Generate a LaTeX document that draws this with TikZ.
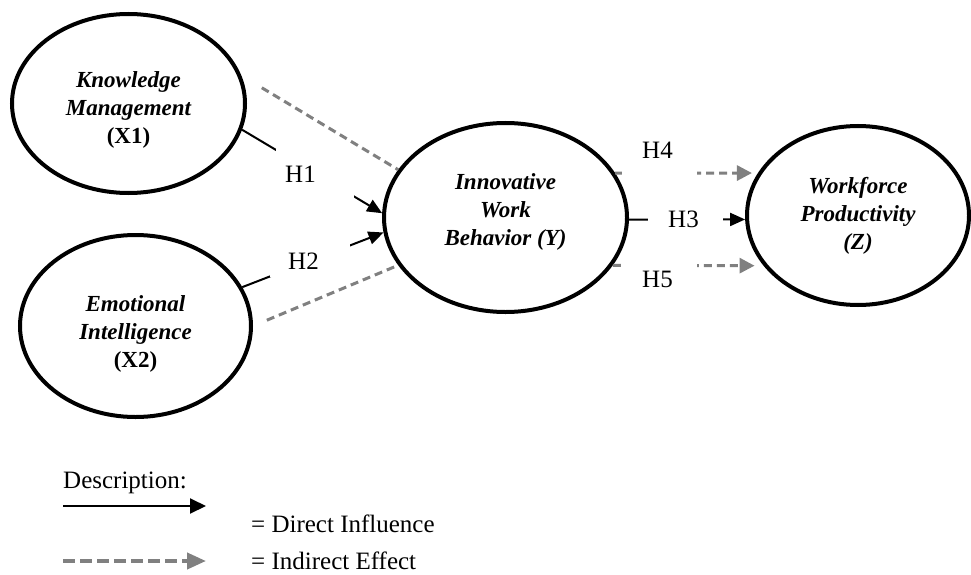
\documentclass[tikz,border=0pt]{standalone}
\usepackage{fontspec}
\setmainfont{Liberation Serif}
\usetikzlibrary{arrows.meta,shapes.geometric}
\definecolor{dgray}{HTML}{808080}
\begin{document}
\begin{tikzpicture}[x=1pt,y=-1pt,
  var/.style={draw, ellipse, line width=4pt, inner sep=0pt},
  vartext/.style={inner sep=0pt, align=center,
    font=\fontsize{23}{28}\selectfont\bfseries\itshape},
  direct/.style={line width=2pt, -{Triangle[length=15pt,width=13pt]}},
  indline/.style={draw=dgray, line width=3pt, dash pattern=on 8pt off 5pt},
  indirect/.style={indline, -{Triangle[length=15pt,width=15pt]}},
  hlab/.style={fill=white, inner ysep=0pt, anchor=base west, align=left,
    font=\fontsize{25}{28}\selectfont},
  txt/.style={inner sep=0pt, anchor=base west, font=\fontsize{25}{28}\selectfont}]
\useasboundingbox (0,0) rectangle (971,575);

% constructs
\node[var, minimum width=233pt, minimum height=179pt] (X1) at (128.5,103.5) {};
\node[var, minimum width=231pt, minimum height=182pt] (X2) at (135.5,326) {};
\node[var, minimum width=243pt, minimum height=189pt] (Y) at (505.5,217.5) {};
\node[var, minimum width=222pt, minimum height=179pt] (Z) at (858,215.5) {};
\node[vartext] (X1t) at ([yshift=-6.5pt]X1.center) {Knowledge\\Management\\{\upshape (X1)}};
\node[vartext] (X2t) at ([yshift=-8pt]X2.center) {Emotional\\Intelligence\\{\upshape (X2)}};
\node[vartext] (Yt) at ([yshift=6pt]Y.center) {Innovative\\Work\\Behavior (Y)};
\node[vartext] (Zt) at (Z.center) {Workforce\\Productivity\\(Z)};

% connectors
\draw[indline, shorten <=24pt] (X1.14.1) -- (Y.156.7);
\draw[indline, shorten <=15pt] (X2.0) -- (Y.204.6);
\draw[direct] (X1.-13.1) -- (Y.178.4);
\draw[direct] (X2.20.6) -- (Y.187.6);
\draw[direct] (Y.-1.6) -- (Z.182.8);
\draw[indirect, shorten >=6pt] (Y.22.1) -- (Z.157);
\draw[indirect, shorten >=9pt] (Y.-24.4) -- (Z.208.2);

% hypothesis labels (white boxes interrupt the connectors)
\node[hlab, inner xsep=9pt, text width=60pt, text height=35.5pt, text depth=19.5pt] (h1) at (276,182.5) {H1};
\node[hlab, inner xsep=18pt, text width=44pt, text height=26pt, text depth=7pt] (h2) at (270,269.5) {H2};
\node[hlab, inner xsep=20pt, text width=35pt, text height=22.5pt, text depth=7.5pt] (h3) at (648,227.5) {H3};
\node[hlab, inner xsep=20pt, text width=35pt, text height=18.5pt, text depth=21.5pt] (h4) at (622,158.5) {H4};
\node[hlab, inner xsep=20pt, text width=35pt, text height=29.5pt, text depth=6.5pt] (h5) at (622,287.5) {H5};

% legend
\node[txt] (desc) at (63,488) {Description:};
\coordinate (la1) at (63,506);
\coordinate (la2) at (206,506);
\draw[line width=2pt, -{Triangle[length=16pt,width=15pt]}] (la1) -- (la2);
\node[txt] (ldir) at (251,532) {= Direct Influence};
\coordinate (lb1) at (63,561);
\coordinate (lb2) at (206,561);
\draw[draw=dgray, line width=4pt, dash pattern=on 12pt off 5pt,
  -{Triangle[length=19pt,width=16pt]}] (lb1) -- (lb2);
\node[txt] (lind) at (251,569) {= Indirect Effect};
\end{tikzpicture}
\end{document}
